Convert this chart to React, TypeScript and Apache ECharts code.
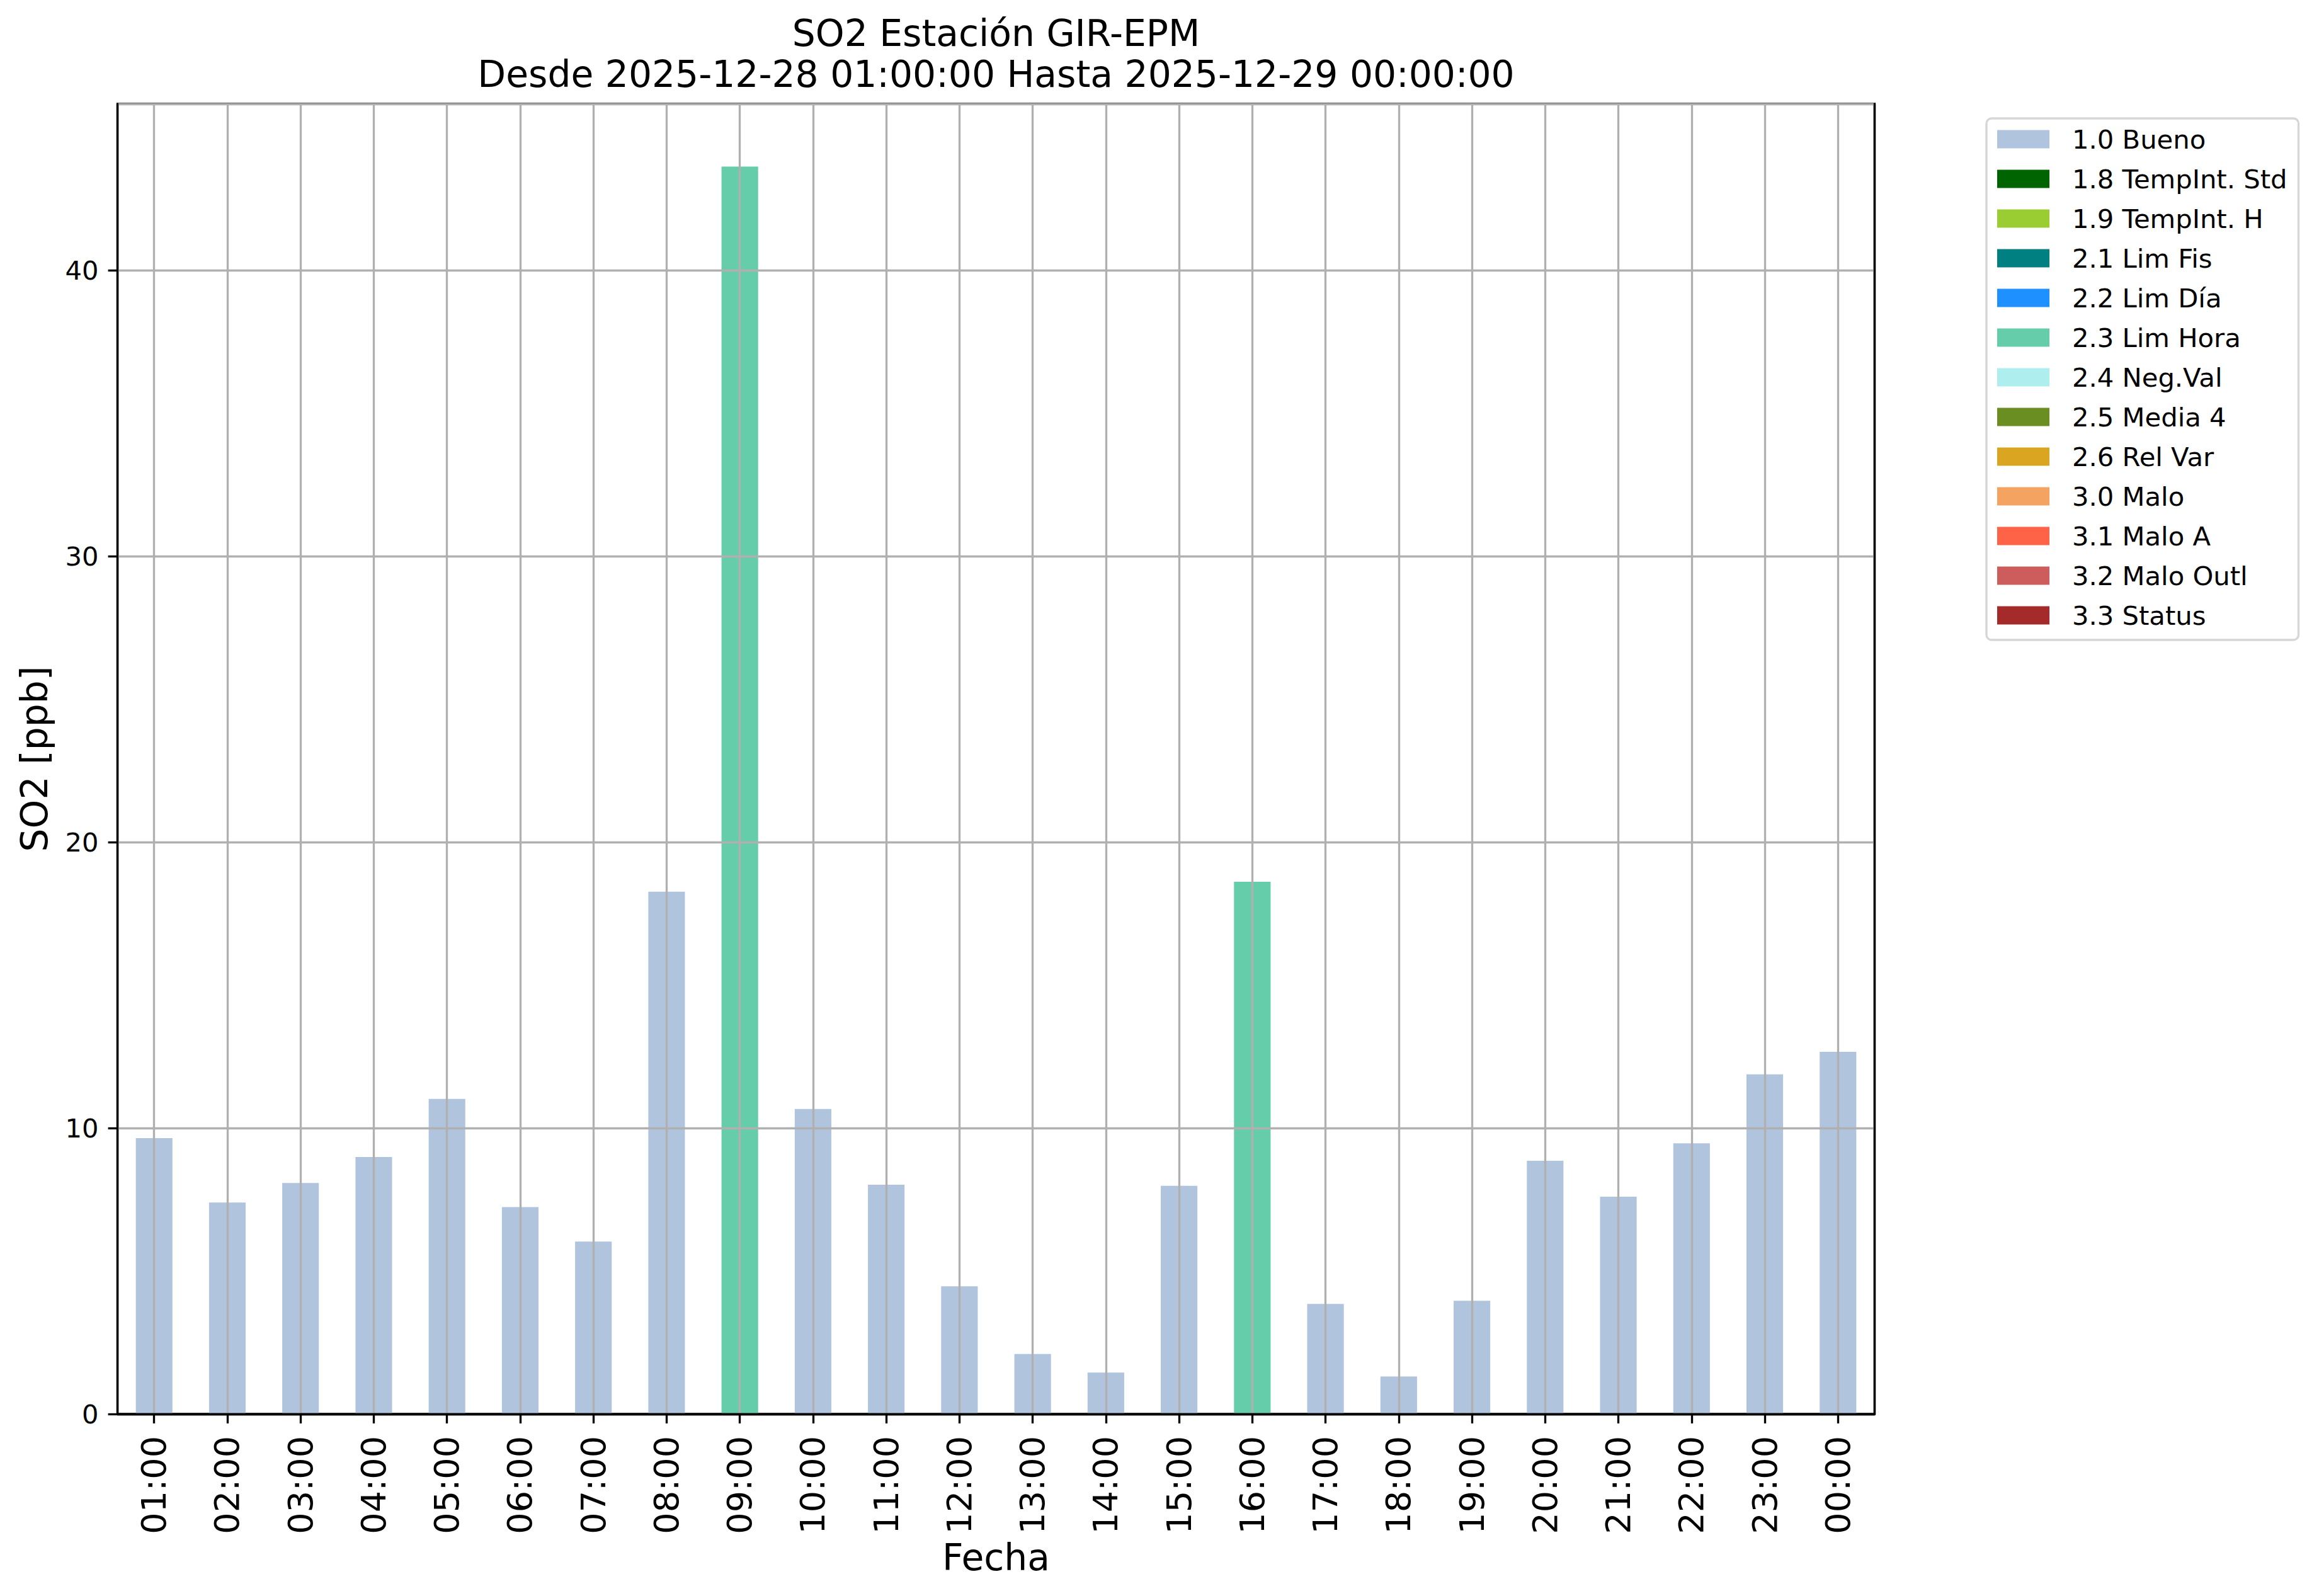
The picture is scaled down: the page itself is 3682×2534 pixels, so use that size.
import React, { useEffect, useRef } from "react";
import * as echarts from "echarts";

const categories = [
  "01:00", "02:00", "03:00", "04:00", "05:00", "06:00", "07:00", "08:00",
  "09:00", "10:00", "11:00", "12:00", "13:00", "14:00", "15:00", "16:00",
  "17:00", "18:00", "19:00", "20:00", "21:00", "22:00", "23:00", "00:00",
];

const so2Values = [
  9.65, 7.4, 8.08, 8.99, 11.02, 7.24, 6.03, 18.27,
  43.64, 10.67, 8.02, 4.47, 2.1, 1.45, 7.98, 18.62,
  3.85, 1.31, 3.96, 8.86, 7.6, 9.47, 11.88, 12.67,
];

const flags = [
  "1.0 Bueno", "1.0 Bueno", "1.0 Bueno", "1.0 Bueno", "1.0 Bueno", "1.0 Bueno", "1.0 Bueno", "1.0 Bueno",
  "2.3 Lim Hora", "1.0 Bueno", "1.0 Bueno", "1.0 Bueno", "1.0 Bueno", "1.0 Bueno", "1.0 Bueno", "2.3 Lim Hora",
  "1.0 Bueno", "1.0 Bueno", "1.0 Bueno", "1.0 Bueno", "1.0 Bueno", "1.0 Bueno", "1.0 Bueno", "1.0 Bueno",
];

const flagNames = [
  "1.0 Bueno", "1.8 TempInt. Std", "1.9 TempInt. H", "2.1 Lim Fis", "2.2 Lim Día",
  "2.3 Lim Hora", "2.4 Neg.Val", "2.5 Media 4", "2.6 Rel Var", "3.0 Malo",
  "3.1 Malo A", "3.2 Malo Outl", "3.3 Status",
];

const flagColors = [
  "#B0C4DE", "#006400", "#9ACD32", "#008080", "#1E90FF",
  "#66CDAA", "#AFEEEE", "#6B8E23", "#DAA520", "#F4A460",
  "#FF6347", "#CD5C5C", "#A52A2A",
];

const yMin = 0;
const yMax = 45.83;
const yInterval = 10;

const titleText = "SO2 Estación GIR-EPM\nDesde 2025-12-28 01:00:00 Hasta 2025-12-29 00:00:00";
const xName = "Fecha";
const yName = "SO2 [ppb]";

const FONT = "DejaVu Sans";
const LW = 3.33;

export default function App() {
  const ref = useRef<HTMLDivElement>(null);

  useEffect(() => {
    if (!ref.current) return;
    const chart = echarts.init(ref.current, null, { renderer: "svg" });

    const barSeries = flagNames.map((name, k) => ({
      name,
      type: "bar",
      stack: "total",
      barWidth: "50%",
      xAxisIndex: 0,
      yAxisIndex: 0,
      z: 2,
      itemStyle: { color: flagColors[k] },
      data: categories.map((_, i) => (flags[i] === name ? so2Values[i] : null)),
      ...(k === 0
        ? {
            markLine: {
              silent: true,
              symbol: ["none", "none"],
              label: { show: false },
              lineStyle: { color: "#b0b0b0", width: LW, type: "solid" },
              emphasis: { disabled: true },
              data: categories.map((c) => ({ xAxis: c })),
            },
          }
        : {}),
    }));

    const frameLine = { show: true, lineStyle: { color: "#000", width: LW } };

    chart.setOption({
      animation: false,
      backgroundColor: "#ffffff",
      textStyle: { fontFamily: FONT },
      title: {
        text: titleText,
        left: 1581.5,
        top: 20,
        padding: 0,
        textAlign: "center",
        textStyle: {
          fontFamily: FONT,
          fontSize: 58.3,
          fontWeight: "normal",
          color: "#000",
          lineHeight: 65,
        },
      },
      legend: {
        orient: "vertical",
        left: 3154,
        top: 188,
        align: "left",
        icon: "rect",
        itemWidth: 83,
        itemHeight: 29,
        itemGap: 21,
        padding: [12, 18, 18, 17],
        borderColor: "#d6d6d6",
        borderWidth: LW,
        borderRadius: 8,
        backgroundColor: "#ffffff",
        selectedMode: false,
        data: flagNames,
        textStyle: {
          fontFamily: FONT,
          fontSize: 41.7,
          lineHeight: 42,
          color: "#000",
          padding: [0, 0, 0, 31],
        },
      },
      grid: {
        left: 186.6,
        top: 165,
        width: 2789.8,
        height: 2080,
        show: true,
        borderColor: "#000",
        borderWidth: LW,
        backgroundColor: "transparent",
      },
      xAxis: [
        {
          type: "category",
          data: categories,
          z: 10,
          name: xName,
          nameLocation: "middle",
          nameGap: 197,
          nameTextStyle: { fontFamily: FONT, fontSize: 58.3, color: "#000", lineHeight: 58 },
          axisLine: frameLine,
          axisTick: { show: true, alignWithLabel: true, length: 15, lineStyle: { color: "#000", width: LW } },
          axisLabel: {
            rotate: 90,
            interval: 0,
            margin: 35,
            fontFamily: FONT,
            fontSize: 54,
            color: "#000",
          },
          splitLine: { show: false },
        },
        {
          type: "category",
          data: categories,
          position: "top",
          z: 11,
          axisLine: frameLine,
          axisTick: { show: false },
          axisLabel: { show: false },
          splitLine: { show: false },
        },
      ],
      yAxis: [
        {
          type: "value",
          min: yMin,
          max: yMax,
          interval: yInterval,
          z: 10,
          name: yName,
          nameLocation: "middle",
          nameGap: 103,
          nameTextStyle: { fontFamily: FONT, fontSize: 58.3, color: "#000", lineHeight: 58 },
          axisLine: frameLine,
          axisTick: { show: true, length: 15, lineStyle: { color: "#000", width: LW } },
          axisLabel: {
            margin: 30,
            fontFamily: FONT,
            fontSize: 41.7,
            color: "#000",
            showMaxLabel: false,
          },
          splitLine: { show: true, lineStyle: { color: "#b0b0b0", width: LW, type: "solid" } },
        },
        {
          type: "value",
          min: yMin,
          max: yMax,
          interval: yInterval,
          position: "right",
          z: 11,
          axisLine: frameLine,
          axisTick: { show: false },
          axisLabel: { show: false },
          splitLine: { show: false },
        },
      ],
      series: barSeries,
    });

    return () => {
      chart.dispose();
    };
  }, []);

  return (
    <div
      ref={ref}
      style={{ position: "absolute", left: 0, top: 0, width: 3682, height: 2534, background: "#fff" }}
    />
  );
}
